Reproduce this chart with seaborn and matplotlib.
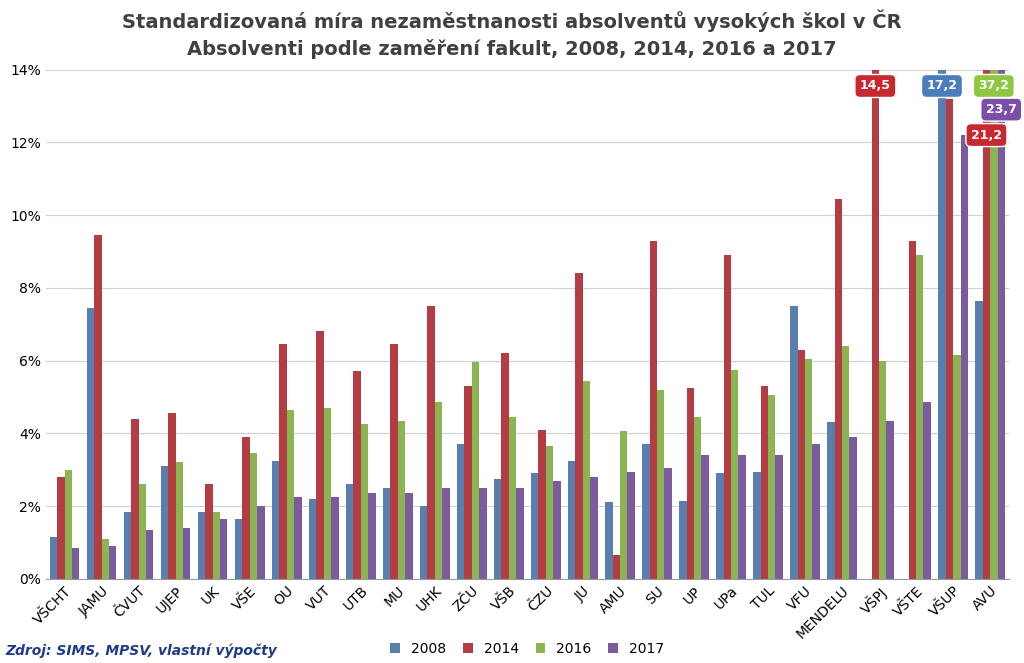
import matplotlib
matplotlib.use("Agg")
import matplotlib.pyplot as plt
import numpy as np
import pandas as pd
import seaborn as sns

schools = ["VŠCHT", "JAMU", "ČVUT", "UJEP", "UK", "VŠE", "OU", "VUT", "UTB", "MU",
           "UHK", "ZČU", "VŠB", "ČZU", "JU", "AMU", "SU", "UP", "UPa", "TUL",
           "VFU", "MENDELU", "VŠPJ", "VŠTE", "VŠUP", "AVU"]
y2008 = [1.15, 7.45, 1.85, 3.1, 1.85, 1.65, 3.25, 2.2, 2.6, 2.5, 2.0, 3.7, 2.75, 2.9,
         3.25, 2.1, 3.7, 2.15, 2.9, 2.95, 7.5, 4.3, np.nan, np.nan, 17.2, 7.65]
y2014 = [2.8, 9.45, 4.4, 4.55, 2.6, 3.9, 6.45, 6.8, 5.7, 6.45, 7.5, 5.3, 6.2, 4.1,
         8.4, 0.65, 9.3, 5.25, 8.9, 5.3, 6.3, 10.45, 14.5, 9.3, 13.2, 21.2]
y2016 = [3.0, 1.1, 2.6, 3.2, 1.85, 3.45, 4.65, 4.7, 4.25, 4.35, 4.85, 5.95, 4.45, 3.65,
         5.45, 4.05, 5.2, 4.45, 5.75, 5.05, 6.05, 6.4, 6.0, 8.9, 6.15, 37.2]
y2017 = [0.85, 0.9, 1.35, 1.4, 1.65, 2.0, 2.25, 2.25, 2.35, 2.35, 2.5, 2.5, 2.5, 2.7,
         2.8, 2.95, 3.05, 3.4, 3.4, 3.4, 3.7, 3.9, 4.35, 4.85, 12.2, 23.7]
years = ["2008", "2014", "2016", "2017"]
colors = ["#4a7ebb", "#c62a30", "#8ec641", "#7b4fa8"]

df = pd.DataFrame({"škola": schools * 4,
                   "rok": np.repeat(years, len(schools)),
                   "hodnota": y2008 + y2014 + y2016 + y2017})

fig, ax = plt.subplots(figsize=(10.24, 6.63), dpi=100)
fig.subplots_adjust(left=0.045, right=0.985, top=0.895, bottom=0.127)
sns.barplot(data=df, x="škola", y="hodnota", hue="rok", palette=colors, ax=ax,
            width=0.8, edgecolor="none", zorder=2)
ax.set_ylim(0, 14)
ax.set_yticks(range(0, 15, 2))
ax.set_yticklabels([f"{v}%" for v in range(0, 15, 2)], fontsize=10)
ax.yaxis.grid(True, color="#d0d0d0", lw=0.8, zorder=0)
ax.set_axisbelow(True)
ax.set_xlabel("")
ax.set_ylabel("")
plt.setp(ax.get_xticklabels(), rotation=45, ha="right", rotation_mode="anchor", fontsize=10)
ax.tick_params(axis="both", length=0)
for s in ["top", "right", "left"]:
    ax.spines[s].set_visible(False)
ax.spines["bottom"].set_color("#999999")

# labels for bars exceeding the axis
offs = {"2008": -0.3, "2014": -0.1, "2016": 0.1, "2017": 0.3}
clipped = [("VŠPJ", "2014", 14.5, 13.55), ("VŠUP", "2008", 17.2, 13.55),
           ("AVU", "2016", 37.2, 13.55), ("AVU", "2017", 23.7, 12.9),
           ("AVU", "2014", 21.2, 12.2)]
for sch, yr, val, ypos in clipped:
    i = schools.index(sch)
    c = colors[years.index(yr)]
    ax.text(i + offs[yr], ypos, f"{val:.1f}".replace(".", ","), ha="center", va="center",
            fontsize=9, fontweight="bold", color="white",
            bbox=dict(boxstyle="round,pad=0.4", fc=c, ec="white"), zorder=5)

ax.legend(loc="upper center", bbox_to_anchor=(0.5, -0.1), ncol=4, frameon=False,
          fontsize=10, handlelength=0.7, handleheight=0.7, columnspacing=1.2)
fig.suptitle("Standardizovaná míra nezaměstnanosti absolventů vysokých škol v ČR\n"
             "Absolventi podle zaměření fakult, 2008, 2014, 2016 a 2017",
             fontsize=14, fontweight="bold", color="#404040", y=0.985, linespacing=1.4)
fig.text(0.005, 0.012, "Zdroj: SIMS, MPSV, vlastní výpočty", fontsize=10,
         fontstyle="italic", fontweight="bold", color="#1f3c88")
fig.savefig("out.png", dpi=100)
